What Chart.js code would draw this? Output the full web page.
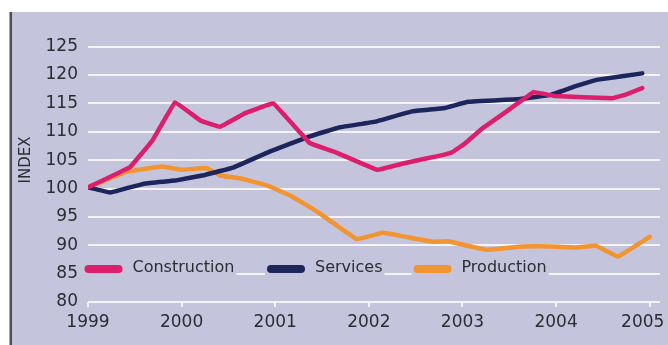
<!DOCTYPE html>
<html>
<head>
<meta charset="utf-8">
<script src="https://cdn.jsdelivr.net/npm/chart.js@4/dist/chart.umd.min.js"></script>
<style>
    html, body { margin: 0; padding: 0; background: #fff; }
    #grafico { display: block; }
</style>
</head>
<body>
<canvas id="grafico" width="668" height="345"></canvas>
<script>
// Anos mostrados no eixo X
const anos = [1999, 2000, 2001, 2002, 2003, 2004, 2005];

// Índice (1999 = 100) - posição em anos e valor de cada ponto
const construcaoX = [1999.00, 1999.45, 1999.69, 1999.93, 2000.20, 2000.41, 2000.68, 2000.98, 2001.37, 2001.66, 2002.09, 2002.39, 2002.76, 2002.89, 2003.03, 2003.22, 2003.48, 2003.76, 2003.99, 2004.60, 2004.75, 2004.92];
const construcaoV = [100.2, 103.8, 108.5, 115.2, 112.0, 110.9, 113.3, 115.0, 108.0, 106.3, 103.3, 104.5, 105.8, 106.4, 108.0, 110.7, 113.7, 117.0, 116.3, 115.9, 116.6, 117.7];

const servicosX = [1999.00, 1999.24, 1999.61, 1999.93, 2000.25, 2000.55, 2000.94, 2001.37, 2001.69, 2002.07, 2002.46, 2002.81, 2003.06, 2003.62, 2003.94, 2004.20, 2004.45, 2004.92];
const servicosV = [100.2, 99.3, 100.9, 101.4, 102.4, 103.7, 106.5, 109.2, 110.8, 111.8, 113.6, 114.2, 115.3, 115.8, 116.5, 118.0, 119.2, 120.3];

const producaoX = [1999.00, 1999.40, 1999.79, 2000.00, 2000.27, 2000.41, 2000.62, 2000.92, 2001.18, 2001.46, 2001.87, 2002.15, 2002.42, 2002.69, 2002.84, 2003.26, 2003.64, 2003.94, 2004.20, 2004.43, 2004.66, 2005.00];
const producaoV = [100.2, 102.9, 103.9, 103.3, 103.6, 102.3, 101.8, 100.5, 98.6, 95.8, 91.1, 92.2, 91.4, 90.6, 90.7, 89.2, 89.8, 89.8, 89.6, 89.9, 88.0, 91.5];

const fundo = '#c4c4dc';
const corTexto = '#2c2c32';
const fonte = '"DejaVu Sans", sans-serif';

function pontos(xs, vs) {
    return xs.map((x, i) => ({ x: x, y: vs[i] }));
}

// Fundo lilás com a barra escura à esquerda
const fundoPlugin = {
    id: 'fundo',
    beforeDraw(chart) {
        const ctx = chart.ctx;
        ctx.save();
        ctx.fillStyle = '#ffffff';
        ctx.fillRect(0, 0, chart.width, chart.height);
        ctx.fillStyle = fundo;
        ctx.fillRect(12, 12, chart.width - 12, chart.height - 12);
        ctx.fillStyle = '#4d4d55';
        ctx.fillRect(9.5, 12, 2.5, chart.height - 12);
        ctx.restore();
    }
};

// Legenda dentro da área do gráfico + título "INDEX"
const legendaPlugin = {
    id: 'legendaInterna',
    afterUpdate(chart) {
        // desloca o último rótulo (2005) para dentro do canvas
        const itens = chart.scales.x.getLabelItems();
        const ultimo = itens[itens.length - 1];
        if (ultimo) ultimo.options.translation[0] -= 7;
    },
    afterDraw(chart) {
        const ctx = chart.ctx;
        const y = 269;
        const inicio = [84.5, 267, 413.5];
        ctx.save();
        ctx.font = '16px ' + fonte;
        chart.data.datasets.forEach((ds, i) => {
            const x0 = inicio[i];
            const w = ctx.measureText(ds.label).width;
            ctx.fillStyle = fundo;
            ctx.fillRect(x0 - 2, y - 8, 48 + w + 4, 16);
            ctx.strokeStyle = ds.borderColor;
            ctx.lineWidth = 8;
            ctx.lineCap = 'round';
            ctx.beginPath();
            ctx.moveTo(x0 + 4, y);
            ctx.lineTo(x0 + 34, y);
            ctx.stroke();
            ctx.fillStyle = corTexto;
            ctx.textBaseline = 'middle';
            ctx.textAlign = 'left';
            ctx.fillText(ds.label, x0 + 48, y - 1);
        });

        ctx.translate(26, 160);
        ctx.rotate(-Math.PI / 2);
        ctx.font = '15px ' + fonte;
        ctx.textAlign = 'center';
        ctx.textBaseline = 'middle';
        ctx.fillText('INDEX', 0, 0);
        ctx.restore();
    }
};

function criarGrafico() {
    const ctx = document.getElementById('grafico').getContext('2d');

    // estilo comum das três linhas
    const linha = {
        borderWidth: 4.5,
        pointRadius: 0,
        tension: 0.05,
        borderJoinStyle: 'round',
        borderCapStyle: 'round'
    };

    new Chart(ctx, {
        type: 'line',
        data: {
            datasets: [
                Object.assign({ label: 'Construction', data: pontos(construcaoX, construcaoV), borderColor: '#dc1e6c' }, linha),
                Object.assign({ label: 'Services', data: pontos(servicosX, servicosV), borderColor: '#1c265c' }, linha),
                Object.assign({ label: 'Production', data: pontos(producaoX, producaoV), borderColor: '#f29430' }, linha)
            ]
        },
        options: {
            responsive: false,
            animation: false,
            layout: {
                padding: { top: 46.7, right: 8, left: 0, bottom: 0 }
            },
            scales: {
                x: {
                    type: 'linear',
                    min: 1999,
                    max: 2005.11,
                    afterBuildTicks: scale => {
                        scale.ticks = anos.map(a => ({ value: a }));
                    },
                    afterFit: scale => {
                        scale.height = 43;
                        scale.paddingLeft = 0;
                        scale.paddingRight = 0;
                    },
                    ticks: {
                        autoSkip: false,
                        maxRotation: 0,
                        padding: 5,
                        color: corTexto,
                        font: { family: fonte, size: 17 },
                        callback: v => String(v)
                    },
                    grid: {
                        drawOnChartArea: false,
                        drawTicks: true,
                        tickLength: 5,
                        color: '#f4f4f8',
                        lineWidth: 2
                    },
                    border: { display: false }
                },
                y: {
                    min: 80,
                    max: 125,
                    afterFit: scale => {
                        scale.width = 88;
                    },
                    ticks: {
                        stepSize: 5,
                        padding: 10,
                        color: corTexto,
                        font: { family: fonte, size: 17 }
                    },
                    grid: {
                        color: '#f4f4f8',
                        lineWidth: 2,
                        drawTicks: false
                    },
                    border: { display: false }
                }
            },
            plugins: {
                legend: { display: false },
                tooltip: { enabled: false }
            }
        },
        plugins: [fundoPlugin, legendaPlugin]
    });
}

document.addEventListener('DOMContentLoaded', () => {
    criarGrafico();
});
</script>
</body>
</html>
